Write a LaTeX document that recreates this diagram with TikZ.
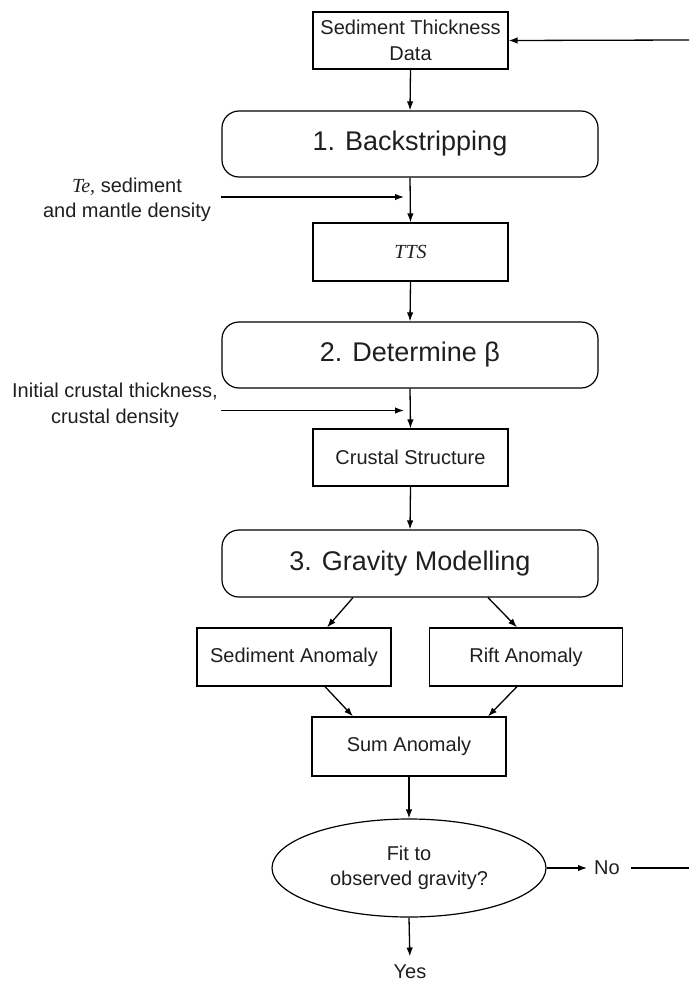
\documentclass[tikz,border=0pt]{standalone}
\usepackage{fontspec}
\setmainfont{Liberation Sans}
\newfontfamily\serifit{Liberation Serif}
\usetikzlibrary{arrows.meta,shapes.geometric,calc}
\begin{document}
\begin{tikzpicture}[x=1pt,y=-1pt,
  every node/.style={font=\fontsize{20}{25.5}\selectfont, text=black!88},
  box/.style={draw, line width=1.2pt, minimum width=195pt, minimum height=58pt, inner sep=0pt, align=center},
  stage/.style={draw, line width=1.2pt, rounded corners=17pt, minimum width=376pt, minimum height=66pt, inner sep=0pt, font=\fontsize{27}{32}\selectfont},
  arr/.style={line width=1.3pt, -{Latex[length=9pt,width=6.5pt]}},
  ln/.style={line width=1.3pt}]
\useasboundingbox (0,0) rectangle (689,982);
% main chain
\node[box, minimum height=57pt] (std) at (410.5,40.5) {Sediment Thickness\\Data};
\node[stage] (b1) at (410,144) {1. Backstripping};
\node[box] (tts) at (410.5,252) {\serifit\itshape TTS};
\node[stage] (b2) at (410,355) {2. Determine β};
\node[box, minimum height=57pt] (cs) at (410.5,457.5) {Crustal Structure};
\node[stage, minimum height=67pt] (b3) at (410,563.5) {3. Gravity Modelling};
\node[box, minimum width=194pt] (sed) at (294,657) {Sediment Anomaly};
\node[box, minimum width=193pt] (rift) at (526,657) {Rift Anomaly};
\node[box, minimum width=194pt, minimum height=59pt] (sum) at (409,746.5) {Sum Anomaly};
\node[ellipse, draw, line width=1.2pt, minimum width=274pt, minimum height=98pt, inner sep=0pt, align=center] (fit) at (409,868) {Fit to\\observed gravity?};
\node[inner sep=0pt] (no) at (607,868) {No};
\node[anchor=north, inner sep=0pt] (yes) at (410,964.5) {Yes};
% side inputs
\node[align=center] (in1) at (127,200) {{\serifit\itshape Te,} sediment\\and mantle density};
\node[align=center] (in2) at (115,405.5) {Initial crustal thickness,\\crustal density};
\coordinate (a1s) at (221,197);
\coordinate (a1e) at (404,197);
\coordinate (a2s) at (221,410.5);
\coordinate (a2e) at (404,410.5);
\coordinate (fbtop) at (689,40);
\coordinate (fbbot) at (689,868);
% connectors
\draw[arr] (fbtop) -- (std.east);
\draw[arr] (std.south) -- (b1.north);
\draw[arr] (b1.south) -- (tts.north);
\draw[arr] (a1s) -- (a1e);
\draw[arr] (tts.south) -- (b2.north);
\draw[arr] (b2.south) -- (cs.north);
\draw[arr] (a2s) -- (a2e);
\draw[arr] (cs.south) -- (b3.north);
\draw[arr] ([xshift=-57pt]b3.south) -- ([xshift=33pt]sed.north);
\draw[arr] ([xshift=78pt]b3.south) -- ([xshift=-9pt]rift.north);
\draw[arr] ([xshift=31pt]sed.south) -- ([xshift=-56pt]sum.north);
\draw[arr] ([xshift=-9pt]rift.south) -- ([xshift=79pt]sum.north);
\draw[arr] (sum.south) -- (fit.north);
\draw[arr, shorten >=7pt] (fit.east) -- (no.west);
\draw[ln, shorten <=11pt] (no.east) -- (fbbot);
\draw[arr, shorten >=8pt] (fit.south) -- (yes.north);
\end{tikzpicture}
\end{document}
